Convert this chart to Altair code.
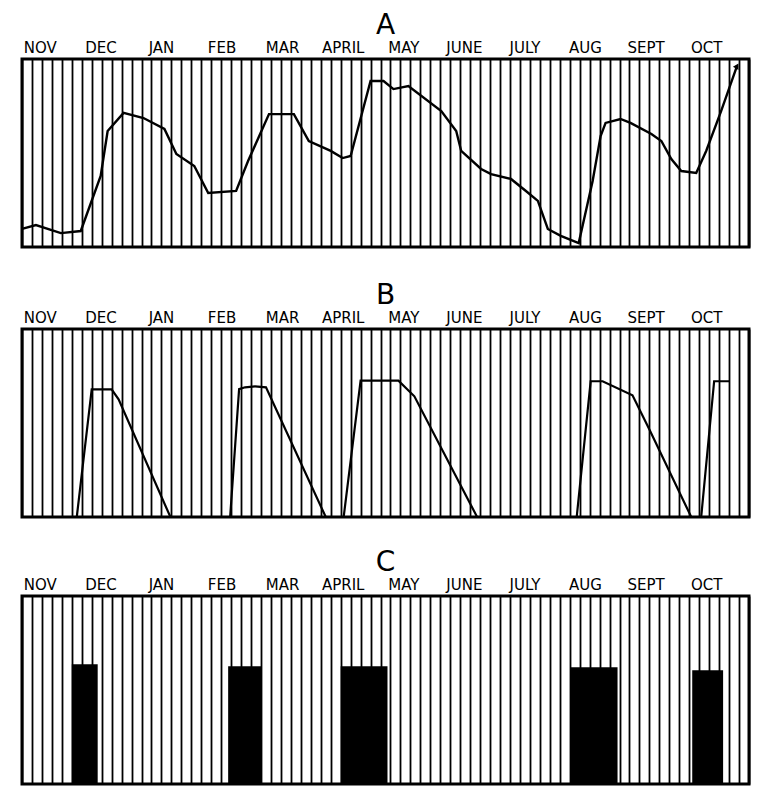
import altair as alt
import pandas as pd

# ---- data ----
months = ["NOV", "DEC", "JAN", "FEB", "MAR", "APRIL", "MAY", "JUNE", "JULY", "AUG", "SEPT", "OCT"]
grid_pentads = list(range(0, 74))

# Panel A (curve), x in five-day periods from Nov 1
a_pentad = [0, 1.4, 3.9, 5.9, 7.9, 8.6, 10.2, 12.2, 14.3, 15.5, 17.3, 18.7, 21.5, 22.7, 24.8,
            27.3, 28.8, 31.0, 32.2, 33.0, 35.0, 36.3, 37.3, 38.8, 42.1, 43.6, 44.1, 46.1, 47.1,
            49.1, 50.6, 51.8, 52.8, 54.1, 55.9, 57.3, 58.1, 58.6, 60.1, 61.1, 63.2, 64.2, 65.2,
            66.2, 67.7, 68.7, 70.2, 71.8]
a_value = [9.6, 11.7, 7.4, 8.5, 37.8, 61.7, 71.3, 68.6, 62.8, 49.5, 43.1, 28.7, 29.8, 45.7, 70.7,
           70.7, 56.4, 51.1, 47.3, 48.4, 88.3, 88.3, 84.0, 85.6, 72.3, 61.7, 51.1, 41.5, 38.8,
           36.2, 29.8, 24.5, 9.6, 5.9, 2.1, 35.1, 59.0, 66.0, 68.1, 66.0, 60.1, 56.4, 46.8,
           40.4, 39.4, 51.1, 72.3, 96.3]

# Panel B (saw-tooth curve)
b_pentad = [5.5, 7.0, 9.0, 9.7, 14.9, 20.9, 21.8, 22.4, 23.4, 24.5, 30.5, 32.3, 34.0, 37.8,
            39.4, 45.7, 55.7, 57.1, 58.3, 61.3, 63.0, 67.2, 68.2, 69.5, 71.0]
b_value = [0, 67.9, 67.9, 62.6, 0, 0, 68.0, 69.0, 69.5, 69.0, 0, 0, 72.5, 72.5,
           64.2, 0, 0, 72.2, 72.2, 64.7, 46.5, 0, 0, 72.2, 72.2]

# Panel C (blocks)
c_start = [5.0, 20.7, 32.0, 55.1, 67.3]
c_end = [7.6, 24.1, 36.7, 59.8, 70.4]
c_value = [63.7, 62.6, 62.6, 62.1, 60.5]

FONT = "DejaVu Sans"
W, H = 727, 188

df_a = pd.DataFrame({"p": a_pentad, "v": a_value})
df_b = pd.DataFrame({"p": b_pentad, "v": b_value})
df_c = pd.DataFrame({"s": c_start, "e": c_end, "v": c_value})
df_m = pd.DataFrame({"month": months})
df_one = pd.DataFrame({"k": [0]})

x_scale = alt.Scale(domain=[0, 73], nice=False, zero=False)
y_scale = alt.Scale(domain=[0, 100], nice=False)
grid_axis = alt.Axis(values=grid_pentads, grid=True, gridColor="black", gridWidth=1.8,
                     gridOpacity=1, labels=False, ticks=False, domain=False, title=None)
month_axis = alt.Axis(orient="top", title=None, domain=False, ticks=False, labelAngle=0,
                      labelFont=FONT, labelFontSize=15, labelColor="black",
                      labelPadding=4, labelOffset=-12)


def month_layer():
    return alt.Chart(df_m).mark_point(opacity=0).encode(
        x=alt.X("month:N", sort=months,
                scale=alt.Scale(type="band", paddingInner=0, paddingOuter=0),
                axis=month_axis)
    )


def frame():
    return alt.Chart(df_one).mark_rect(filled=False, fill=None, stroke="black", strokeWidth=3).encode(
        x=alt.value(0), x2=alt.value(W), y=alt.value(0), y2=alt.value(H)
    )


def title(t):
    return alt.TitleParams(t, fontSize=28, font=FONT, fontWeight="normal",
                           anchor="middle", color="black", offset=0)


line_a = alt.Chart(df_a).mark_line(color="black", strokeWidth=2.4).encode(
    x=alt.X("p:Q", scale=x_scale, axis=grid_axis),
    y=alt.Y("v:Q", scale=y_scale, axis=None),
    order="p:Q",
)
arrow_a = alt.Chart(df_a.tail(1)).mark_point(shape="triangle-up", filled=True, color="black",
                                             size=40, angle=30, opacity=1).encode(
    x=alt.X("p:Q", scale=x_scale, axis=grid_axis),
    y=alt.Y("v:Q", scale=y_scale, axis=None),
)
data_a = alt.layer(line_a, arrow_a)
panel_a = alt.layer(data_a, frame(), month_layer()).resolve_scale(x="independent").properties(
    width=W, height=H, title=title("A"))

line_b = alt.Chart(df_b).mark_line(color="black", strokeWidth=2.2).encode(
    x=alt.X("p:Q", scale=x_scale, axis=grid_axis),
    y=alt.Y("v:Q", scale=y_scale, axis=None),
    order="p:Q",
)
panel_b = alt.layer(line_b, frame(), month_layer()).resolve_scale(x="independent").properties(
    width=W, height=H, title=title("B"))

bars_c = alt.Chart(df_c).mark_rect(color="black").encode(
    x=alt.X("s:Q", scale=x_scale, axis=grid_axis),
    x2="e:Q",
    y=alt.Y("v:Q", scale=y_scale, axis=None),
    y2=alt.datum(0),
)
panel_c = alt.layer(bars_c, frame(), month_layer()).resolve_scale(x="independent").properties(
    width=W, height=H, title=title("C"))

chart = alt.vconcat(panel_a, alt.vconcat(panel_b, panel_c, spacing=26), spacing=32).properties(
    padding={"left": 8, "top": 3, "right": 5, "bottom": 5}
).configure_view(stroke=None).configure(background="white")

chart.save("out.html", embed_options={"renderer": "svg", "actions": False})
